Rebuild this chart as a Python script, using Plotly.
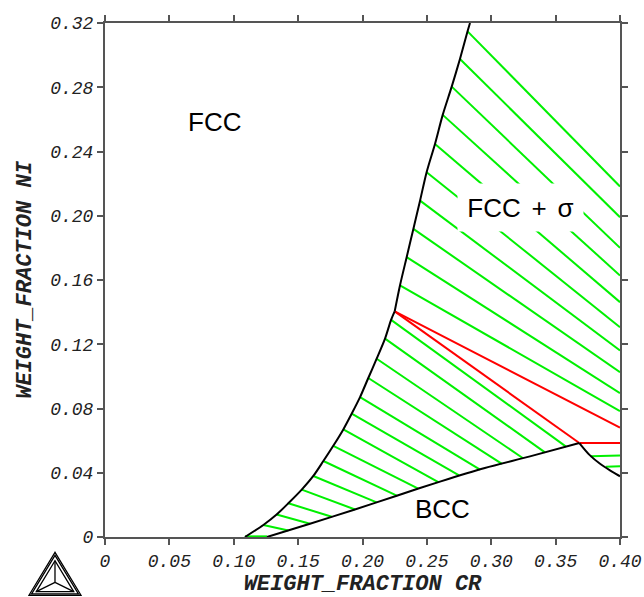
import plotly.graph_objects as go

# ---- Phase boundaries (weight fraction Cr, weight fraction Ni) ----
# FCC / FCC+BCC boundary, from the Fe-Cr edge up to the three-phase corner
fcc_lo_x = [0.1087, 0.1230, 0.1333, 0.1424, 0.1528, 0.1618, 0.1696, 0.1773, 0.1851,
            0.1916, 0.1981, 0.2045, 0.2110, 0.2175, 0.2222, 0.2250]
fcc_lo_y = [0.0, 0.0075, 0.0140, 0.0210, 0.0295, 0.0380, 0.0473, 0.0568, 0.0670,
            0.0768, 0.0871, 0.0990, 0.1110, 0.1235, 0.1352, 0.1405]
# FCC / FCC+sigma boundary, from the three-phase corner to the top of the section
fcc_hi_x = [0.2250, 0.2291, 0.2343, 0.2395, 0.2447, 0.2498, 0.2563, 0.2623,
            0.2693, 0.2757, 0.2816, 0.2835]
fcc_hi_y = [0.1405, 0.1566, 0.1742, 0.1918, 0.2094, 0.2271, 0.2447, 0.2628,
            0.2804, 0.2976, 0.3148, 0.3200]

# BCC / two-phase boundary
bcc_x = [0.1258, 0.1592, 0.1929, 0.2266, 0.2602, 0.2950, 0.3301, 0.3684]
bcc_y = [0.0, 0.0083, 0.0168, 0.0257, 0.0345, 0.0430, 0.0502, 0.0585]

# BCC / BCC+sigma boundary
bsig_x = [0.3684, 0.3767, 0.3845, 0.3922, 0.40]
bsig_y = [0.0585, 0.0508, 0.0456, 0.0415, 0.0378]

# Three-phase triangle edges (FCC + BCC + sigma)
red_x0 = [0.2250, 0.2250, 0.3684]
red_y0 = [0.1405, 0.1405, 0.0585]
red_x1 = [0.3684, 0.40, 0.40]
red_y1 = [0.0585, 0.0681, 0.0585]

# ---- Tie lines ----
# FCC + sigma
fs_x0 = [0.2816, 0.2757, 0.2693, 0.2623, 0.2563, 0.2498, 0.2447, 0.2395, 0.2343, 0.2291]
fs_y0 = [0.3148, 0.2976, 0.2804, 0.2628, 0.2447, 0.2271, 0.2094, 0.1918, 0.1742, 0.1566]
fs_x1 = [0.40] * 10
fs_y1 = [0.2182, 0.1991, 0.1800, 0.1628, 0.1462, 0.1306, 0.1161, 0.1026, 0.0896, 0.0784]

# FCC + BCC
fb_x0 = [0.2222, 0.2175, 0.2110, 0.2045, 0.1981, 0.1916, 0.1851, 0.1773,
         0.1696, 0.1618, 0.1528, 0.1424, 0.1333, 0.1230, 0.1087]
fb_y0 = [0.1352, 0.1235, 0.1110, 0.0990, 0.0871, 0.0768, 0.0670, 0.0568,
         0.0473, 0.0380, 0.0295, 0.0210, 0.0140, 0.0075, 0.0004]
fb_x1 = [0.3581, 0.3417, 0.3247, 0.3083, 0.2913, 0.2750, 0.2589, 0.2433,
         0.2266, 0.2110, 0.1942, 0.1761, 0.1592, 0.1424, 0.1258]
fb_y1 = [0.0563, 0.0527, 0.0490, 0.0455, 0.0420, 0.0383, 0.0342, 0.0301,
         0.0257, 0.0216, 0.0171, 0.0126, 0.0083, 0.0041, 0.0004]

# BCC + sigma
bs_x0 = [0.3771, 0.3890]
bs_y0 = [0.0502, 0.0437]
bs_x1 = [0.40, 0.40]
bs_y1 = [0.0508, 0.0440]

# ---- Axes ----
x_ticks = [0, 0.05, 0.10, 0.15, 0.20, 0.25, 0.30, 0.35, 0.40]
x_labels = ["0", "0.05", "0.10", "0.15", "0.20", "0.25", "0.30", "0.35", "0.40"]
y_ticks = [0, 0.04, 0.08, 0.12, 0.16, 0.20, 0.24, 0.28, 0.32]
y_labels = ["0", "0.04", "0.08", "0.12", "0.16", "0.20", "0.24", "0.28", "0.32"]

# ---- Region labels ----
label_text = ["FCC", "BCC", "FCC\u2004\u200a+\u2004\u200aσ"]
label_x = [0.0854, 0.2625, 0.3225]
label_y = [0.2586, 0.0172, 0.2054]


def segments(x0, y0, x1, y1):
    xs, ys = [], []
    for a, b, c, d in zip(x0, y0, x1, y1):
        xs += [a, c, None]
        ys += [b, d, None]
    return xs, ys


GREEN = "#00f000"
fig = go.Figure()

gx, gy = [], []
for grp in [(fs_x0, fs_y0, fs_x1, fs_y1), (fb_x0, fb_y0, fb_x1, fb_y1),
            (bs_x0, bs_y0, bs_x1, bs_y1)]:
    sx, sy = segments(*grp)
    gx += sx
    gy += sy
fig.add_trace(go.Scatter(x=gx, y=gy, mode="lines",
                         line=dict(color=GREEN, width=2), hoverinfo="skip"))

rx, ry = segments(red_x0, red_y0, red_x1, red_y1)
fig.add_trace(go.Scatter(x=rx, y=ry, mode="lines",
                         line=dict(color="#ff0000", width=2), hoverinfo="skip"))

for bx, by in [(fcc_lo_x, fcc_lo_y), (fcc_hi_x, fcc_hi_y), (bcc_x, bcc_y),
               (bsig_x, bsig_y)]:
    fig.add_trace(go.Scatter(x=bx, y=by, mode="lines",
                             line=dict(color="black", width=2, shape="spline",
                                       smoothing=0.8),
                             hoverinfo="skip"))

label_font = dict(family="Liberation Sans, Arial, sans-serif", size=26, color="black")
for t, lx, ly in zip(label_text, label_x, label_y):
    kw = {}
    if "σ" in t:
        kw = dict(bgcolor="white", width=123, height=45)
    fig.add_annotation(x=lx, y=ly, xref="x", yref="y", text=t, showarrow=False,
                       font=label_font, **kw)

# Thermo-Calc style logo in the lower-left margin (paper coordinates)
cx, base_y, apex_y, half_w = -0.0971, -0.1133, -0.0298, 0.0505
cy = base_y + (apex_y - base_y) * 0.3


def tri(scale):
    return [(cx, cy + (apex_y - cy) * scale),
            (cx - half_w * scale, cy + (base_y - cy) * scale),
            (cx + half_w * scale, cy + (base_y - cy) * scale)]


for s in (1.0, 0.9, 0.72):
    p = tri(s)
    path = f"M {p[0][0]},{p[0][1]} L {p[1][0]},{p[1][1]} L {p[2][0]},{p[2][1]} Z"
    fig.add_shape(type="path", path=path, xref="paper", yref="paper",
                  line=dict(color="black", width=1.3))
for vx, vy in tri(0.72):
    fig.add_shape(type="line", x0=cx, y0=cy, x1=vx, y1=vy, xref="paper", yref="paper",
                  line=dict(color="black", width=1.3))

tick_font = dict(family="Liberation Mono, Courier New, monospace", size=18,
                 color="#222222", style="italic")
title_font = dict(family="Liberation Mono, Courier New, monospace", size=22,
                  color="#222222", style="italic", weight="bold")
axis_common = dict(showgrid=False, zeroline=False, showline=True, linecolor="#555555",
                   linewidth=2, ticks="outside", ticklen=6, tickwidth=1.5,
                   tickcolor="#555555", mirror="ticks", tickfont=tick_font,
                   automargin=False)

fig.update_xaxes(range=[0, 0.40], tickvals=x_ticks, ticktext=x_labels,
                 title=dict(text="WEIGHT_FRACTION CR", font=title_font, standoff=4),
                 **axis_common)
fig.update_yaxes(range=[0, 0.32], tickvals=y_ticks, ticktext=y_labels,
                 title=dict(text="WEIGHT_FRACTION NI", font=title_font, standoff=12),
                 **axis_common)

fig.update_layout(width=644, height=597, showlegend=False,
                  margin=dict(l=105, r=24, t=23, b=60),
                  plot_bgcolor="white", paper_bgcolor="white", hovermode=False)

fig.write_html("out.html", config={"displayModeBar": False})
